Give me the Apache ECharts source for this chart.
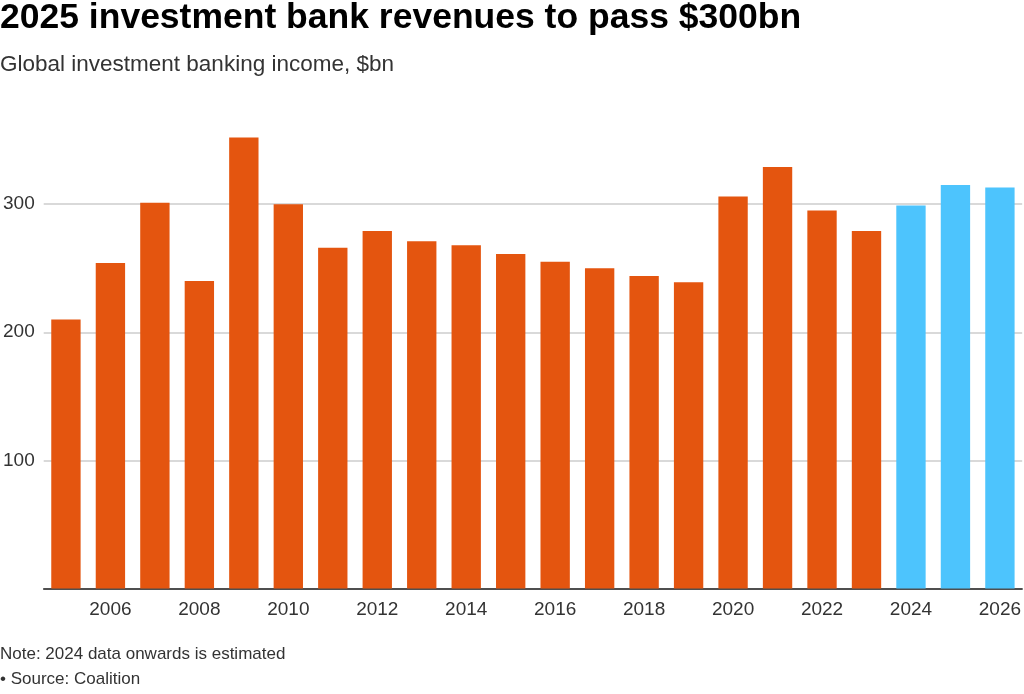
<!DOCTYPE html>
<html><head><meta charset="utf-8">
<script src="https://cdn.jsdelivr.net/npm/echarts@6/dist/echarts.min.js"></script>
<style>html,body{margin:0;padding:0;background:#fff;}#c{width:1024px;height:694px;}</style>
</head><body><div id="c"></div>
<script>
const years = ['2005','2006','2007','2008','2009','2010','2011','2012','2013','2014','2015','2016','2017','2018','2019','2020','2021','2022','2023','2024','2025','2026'];
const revenues = [210,254,301,240,352,300,266,279,271,268,261,255,250,244,239,306,329,295,279,299,315,313];
const estimatedFrom = '2024';
const yTicks = [100,200,300];
const title = '2025 investment bank revenues to pass $300bn';
const subtitle = 'Global investment banking income, $bn';
const note = 'Note: 2024 data onwards is estimated';
const source = '• Source: Coalition';

const ORANGE = '#E4550F', BLUE = '#4DC4FD';
const estIdx = years.indexOf(estimatedFrom);
const chart = echarts.init(document.getElementById('c'));
const font = '"Liberation Sans", Arial, Helvetica, sans-serif';
chart.setOption({
  animation: false,
  textStyle: {fontFamily: font},
  graphic: [
    {type:'text', left: 0, top: 0, style:{text: title, font: 'bold 35.5px ' + font, fill:'#000'}},
    {type:'text', left: 0, top: 53, style:{text: subtitle, font: '22.5px ' + font, fill:'#333'}},
    {type:'text', left: 0, top: 646, style:{text: note, font: '17px ' + font, fill:'#333'}},
    {type:'text', left: 0, top: 671, style:{text: source, font: '17px ' + font, fill:'#333'}}
  ],
  grid: {left: 41.5, right: 1.7, top: 76, bottom: 105.5, containLabel: false},
  xAxis: {
    type: 'category', data: years,
    axisLine: {show: true, lineStyle: {color: '#222', width: 1.5}},
    axisTick: {show: false},
    axisLabel: {interval: (i) => i % 2 === 1, color: '#333', fontSize: 19, margin: 12, fontFamily: font}
  },
  yAxis: {
    type: 'value', min: 0, max: 400, interval: 100,
    axisLine: {show: false}, axisTick: {show: false},
    splitLine: {lineStyle: {color: ['#cccccc','#cccccc','#cccccc','#cccccc','rgba(0,0,0,0)'], width: 1.5}},
    axisLabel: {
      color: '#333', fontSize: 19, margin: 9, fontFamily: font,
      formatter: (v) => yTicks.includes(v) ? String(v) : ''
    }
  },
  series: [{
    type: 'bar',
    barCategoryGap: '34%',
    data: revenues.map((v, i) => ({value: v, itemStyle: {color: i >= estIdx ? BLUE : ORANGE}}))
  }]
});
</script></body></html>
